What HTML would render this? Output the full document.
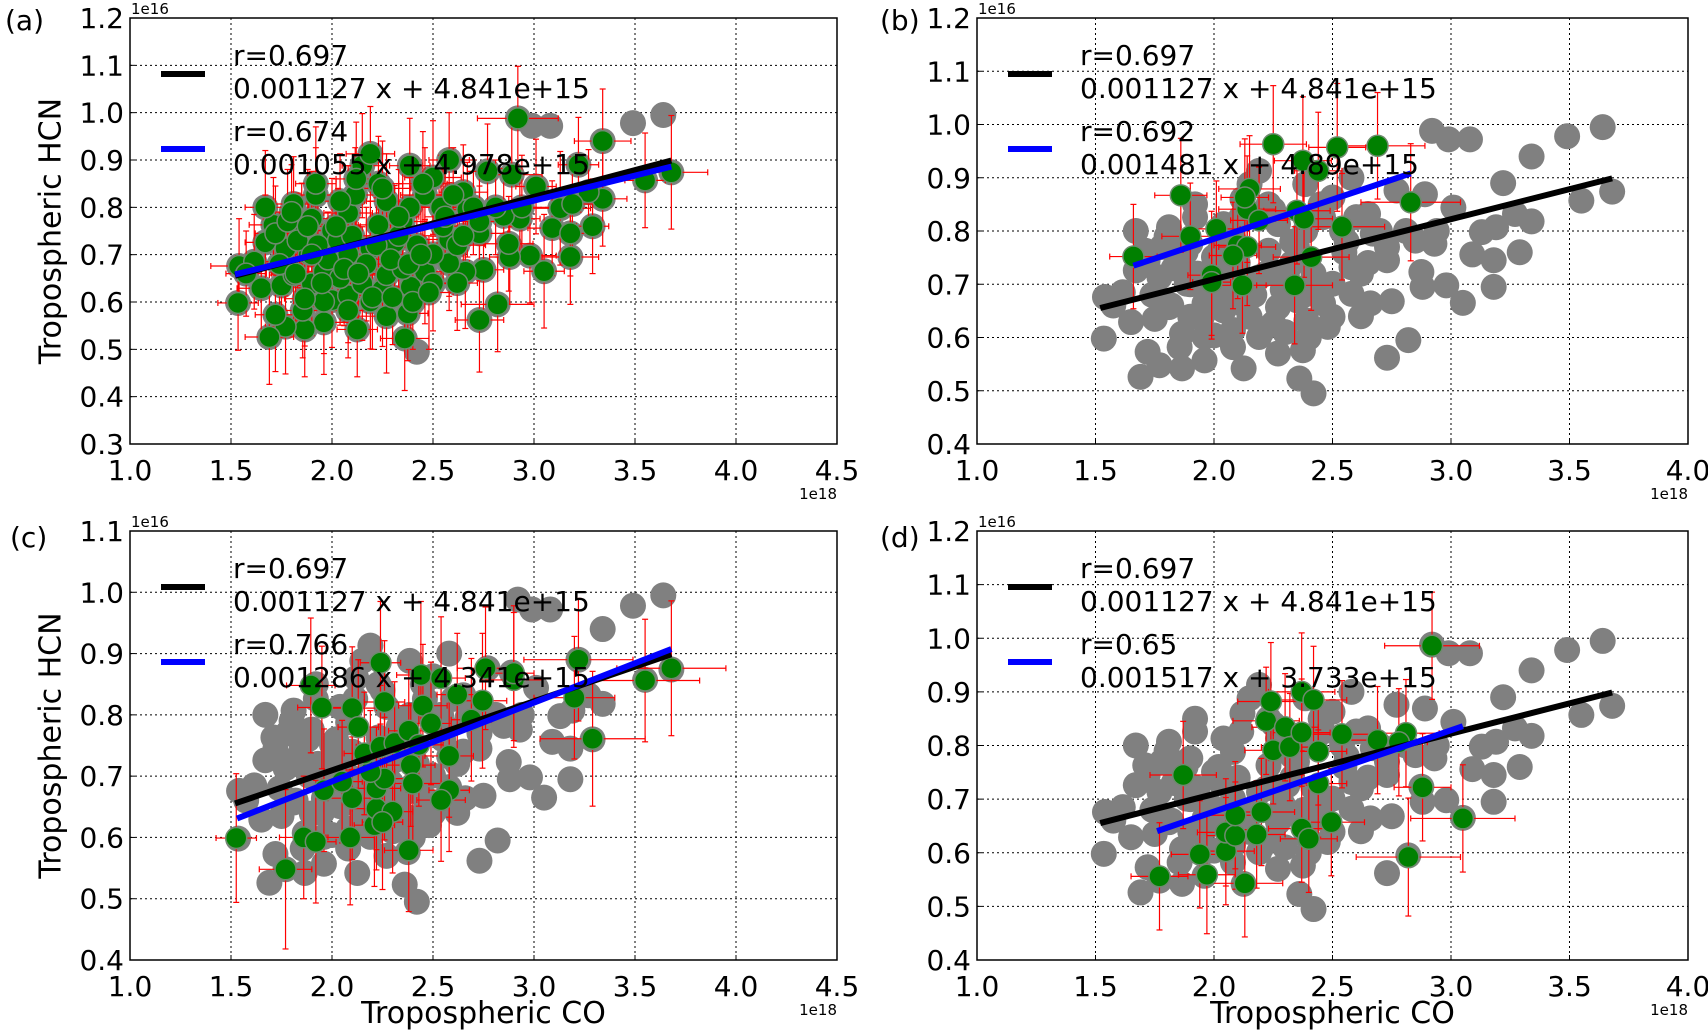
<!DOCTYPE html>
<html><head><meta charset="utf-8">
<style>
html,body{margin:0;padding:0;background:#fff;}
svg{display:block;font-family:"DejaVu Sans","Liberation Sans",sans-serif;}
</style></head>
<body>
<svg id="fig" width="1708" height="1032" viewBox="0 0 1708 1032" xmlns="http://www.w3.org/2000/svg"></svg>
<script>
// ---- data (x in 1e18, y in 1e16) ----
const grayX = [3.64,3.49,3.34,3.68,3.55,3.22,3.34,3.27,3.13,3.19,3.29,3.09,3.18,3.18,3.05,2.98,2.88,2.875,2.92,2.99,3.08,2.82,2.73,2.75,2.66,2.62,2.73,2.93,2.85,3.01,2.89,2.77,2.65,2.67,2.58,2.58,2.42,2.36,2.375,2.39,2.25,2.19,2.125,1.96,1.865,1.77,1.69,1.72,1.855,2.0,2.08,1.535,1.65,1.75,1.54,1.615,1.575,1.81,1.9,1.96,2.04,2.15,2.27,2.35,2.46,2.5,2.42,2.31,2.19,2.08,1.885,1.77,1.67,1.71,1.67,1.81,1.9,2.0,2.08,2.23,2.35,2.27,2.23,2.15,2.19,2.385,2.5,2.58,2.46,2.54,2.385,2.115,1.92,1.92,2.04,1.85,1.96,1.865,2.08,2.27,2.5,2.6,2.94,2.81,2.73,
  1.72,1.78,1.83,1.88,1.93,1.98,2.03,2.1,2.17,2.22,2.29,2.33,2.38,2.44,2.55,2.62,1.74,1.82,1.95,2.06,2.13,2.2,2.3,2.4,2.48,2.56,1.8,1.9,2.02,2.12,2.25,2.33,2.45,2.65,2.7];
const grayY = [0.995,0.978,0.94,0.874,0.857,0.89,0.818,0.832,0.798,0.807,0.76,0.756,0.745,0.695,0.665,0.698,0.695,0.723,0.988,0.972,0.972,0.595,0.562,0.668,0.664,0.64,0.745,0.776,0.782,0.844,0.869,0.876,0.832,0.795,0.732,0.682,0.495,0.523,0.576,0.632,0.626,0.601,0.542,0.557,0.542,0.548,0.526,0.573,0.582,0.604,0.614,0.598,0.629,0.635,0.676,0.685,0.66,0.657,0.639,0.664,0.651,0.639,0.657,0.67,0.664,0.701,0.72,0.726,0.713,0.701,0.701,0.713,0.726,0.763,0.8,0.807,0.776,0.751,0.788,0.763,0.77,0.813,0.85,0.888,0.913,0.888,0.863,0.9,0.826,0.8,0.8,0.826,0.826,0.85,0.813,0.751,0.601,0.607,0.582,0.57,0.639,0.826,0.8,0.8,0.77,
  0.745,0.77,0.73,0.76,0.72,0.69,0.73,0.74,0.68,0.72,0.69,0.74,0.68,0.7,0.76,0.72,0.68,0.66,0.64,0.67,0.66,0.61,0.61,0.6,0.62,0.78,0.79,0.7,0.76,0.86,0.84,0.78,0.85,0.74,0.8];
const grayXErr = [0.12,0.1,0.14,0.18,0.1,0.1,0.12,0.1,0.15,0.1,0.08,0.12,0.1,0.14,0.1,0.13,0.1,0.12,0.2,0.1,0.1,0.18,0.12,0.1,0.12,0.1,0.14,0.1,0.12,0.1,0.15,0.1,0.12,0.1,0.13,0.1,0.1,0.12,0.1,0.14,0.1,0.12,0.1,0.12,0.1,0.1,0.12,0.1,0.1,0.12,0.1,0.1,0.12,0.1,0.14,0.1,0.1,0.12,0.1,0.1,0.15,0.1,0.12,0.1,0.14,0.12,0.1,0.12,0.1,0.1,0.12,0.1,0.1,0.12,0.1,0.1,0.12,0.1,0.12,0.1,0.12,0.1,0.12,0.1,0.12,0.1,0.14,0.1,0.12,0.1,0.12,0.1,0.12,0.1,0.12,0.1,0.12,0.1,0.12,0.14,0.12,0.1,0.15,0.12,0.1,
  0.1,0.12,0.1,0.14,0.1,0.12,0.1,0.12,0.1,0.14,0.1,0.12,0.1,0.12,0.1,0.14,0.1,0.12,0.1,0.12,0.14,0.1,0.12,0.1,0.12,0.1,0.12,0.1,0.12,0.1,0.14,0.1,0.12,0.1,0.12];
const grayYErr = [0.1,0.1,0.11,0.12,0.1,0.1,0.1,0.09,0.12,0.1,0.1,0.1,0.09,0.1,0.12,0.1,0.1,0.1,0.11,0.1,0.1,0.1,0.11,0.1,0.12,0.1,0.1,0.09,0.1,0.1,0.11,0.1,0.1,0.1,0.12,0.1,0.1,0.11,0.1,0.1,0.12,0.1,0.1,0.11,0.1,0.1,0.1,0.12,0.1,0.1,0.1,0.1,0.1,0.11,0.1,0.1,0.09,0.1,0.11,0.1,0.1,0.12,0.1,0.1,0.11,0.1,0.1,0.12,0.1,0.1,0.11,0.1,0.1,0.1,0.12,0.1,0.1,0.11,0.1,0.1,0.12,0.1,0.1,0.11,0.1,0.1,0.12,0.1,0.1,0.11,0.1,0.1,0.1,0.12,0.1,0.1,0.11,0.1,0.1,0.12,0.1,0.1,0.11,0.1,0.1,
  0.1,0.11,0.1,0.12,0.1,0.1,0.11,0.1,0.12,0.1,0.1,0.11,0.1,0.1,0.12,0.1,0.11,0.1,0.1,0.12,0.1,0.11,0.1,0.1,0.12,0.1,0.1,0.11,0.1,0.12,0.1,0.1,0.11,0.1,0.1];
const skipA = [0,1,19,20,36];

const greenB = [[1.66,0.752,0.1,0.098],[1.86,0.867,0.11,0.107],[1.90,0.79,0.12,0.1],[2.01,0.804,0.1,0.09],[1.99,0.717,0.1,0.12],[1.99,0.704,0.08,0.1],[2.12,0.698,0.1,0.09],[2.15,0.879,0.13,0.1],[2.14,0.841,0.12,0.1],[2.13,0.863,0.1,0.11],[2.19,0.82,0.12,0.1],[2.10,0.773,0.1,0.1],[2.14,0.77,0.12,0.11],[2.08,0.754,0.1,0.1],[2.25,0.963,0.14,0.11],[2.375,0.932,0.12,0.12],[2.44,0.913,0.1,0.11],[2.52,0.957,0.12,0.12],[2.69,0.96,0.2,0.1],[2.35,0.838,0.14,0.1],[2.38,0.823,0.12,0.11],[2.54,0.808,0.18,0.1],[2.41,0.751,0.16,0.1],[2.34,0.698,0.16,0.11],[2.83,0.854,0.21,0.11]];
const greenC = [[1.526,0.599,0.1,0.105],[1.77,0.548,0.13,0.13],[1.86,0.6,0.12,0.1],[1.92,0.593,0.1,0.1],[1.895,0.848,0.12,0.11],[1.95,0.812,0.12,0.1],[2.1,0.811,0.12,0.1],[2.13,0.78,0.1,0.11],[1.96,0.677,0.1,0.1],[2.1,0.664,0.12,0.1],[2.05,0.691,0.1,0.1],[2.09,0.6,0.12,0.11],[2.21,0.62,0.1,0.1],[2.22,0.647,0.12,0.1],[2.3,0.642,0.1,0.1],[2.25,0.625,0.1,0.11],[2.22,0.68,0.12,0.1],[2.26,0.696,0.1,0.1],[2.19,0.707,0.12,0.1],[2.16,0.737,0.1,0.1],[2.24,0.748,0.12,0.1],[2.31,0.754,0.1,0.1],[2.39,0.718,0.12,0.1],[2.4,0.688,0.14,0.1],[2.38,0.579,0.12,0.1],[2.38,0.774,0.1,0.1],[2.45,0.815,0.12,0.1],[2.49,0.786,0.1,0.1],[2.44,0.865,0.12,0.12],[2.26,0.821,0.1,0.1],[2.24,0.885,0.1,0.1],[2.54,0.86,0.12,0.1],[2.62,0.833,0.1,0.1],[2.745,0.823,0.12,0.11],[2.69,0.792,0.1,0.1],[2.58,0.733,0.12,0.1],[2.58,0.677,0.1,0.1],[2.54,0.661,0.12,0.1],[2.76,0.876,0.14,0.1],[2.9,0.857,0.14,0.11],[2.9,0.868,0.1,0.11],[3.22,0.89,0.27,0.1],[3.2,0.828,0.2,0.1],[3.29,0.761,0.26,0.11],[3.55,0.856,0.27,0.1],[3.68,0.876,0.27,0.11],[2.43,0.751,0.12,0.1]];
const greenD = [[2.92,0.986,0.2,0.1],[1.77,0.556,0.12,0.1],[1.87,0.745,0.14,0.1],[1.94,0.597,0.12,0.1],[1.97,0.559,0.12,0.11],[2.05,0.603,0.12,0.1],[2.05,0.638,0.12,0.1],[2.09,0.632,0.12,0.1],[2.09,0.67,0.12,0.1],[2.13,0.543,0.16,0.1],[2.18,0.634,0.12,0.1],[2.2,0.676,0.14,0.1],[2.22,0.846,0.14,0.1],[2.24,0.882,0.14,0.11],[2.25,0.791,0.12,0.1],[2.3,0.834,0.14,0.1],[2.32,0.797,0.12,0.1],[2.37,0.9,0.14,0.11],[2.42,0.885,0.14,0.1],[2.37,0.824,0.12,0.1],[2.44,0.789,0.12,0.1],[2.44,0.729,0.12,0.1],[2.37,0.645,0.14,0.1],[2.4,0.626,0.12,0.1],[2.495,0.657,0.14,0.1],[2.54,0.821,0.14,0.1],[2.69,0.81,0.14,0.1],[2.81,0.823,0.14,0.1],[2.78,0.806,0.12,0.1],[2.88,0.722,0.12,0.1],[3.05,0.664,0.22,0.1],[2.82,0.592,0.22,0.11]];

const blackFit = [0.1127,0.4841,1.52,3.68];
const blueA = [0.1055,0.4978,1.52,3.68];
const blueB = [0.1481,0.489,1.66,2.83];
const blueC = [0.1286,0.4341,1.53,3.68];
const blueD = [0.1517,0.3733,1.76,3.05];
const legendA = ["r=0.674","0.001055 x + 4.978e+15"];
const legendB = ["r=0.692","0.001481 x + 4.89e+15"];
const legendC = ["r=0.766","0.001286 x + 4.341e+15"];
const legendD = ["r=0.65","0.001517 x + 3.733e+15"];
const legendBlack = ["r=0.697","0.001127 x + 4.841e+15"];

const NS="http://www.w3.org/2000/svg";
const svg=document.getElementById('fig');
function mk(tag,attrs,parent){const e=document.createElementNS(NS,tag);for(const k in attrs)e.setAttribute(k,attrs[k]);(parent||svg).appendChild(e);return e;}

function panel(opt){
  const g=mk('g',{});
  
  
  const L=opt.L,R=opt.R,T=opt.T,B=opt.B;
  const sx=v=>L+(v-opt.xmin)/(opt.xmax-opt.xmin)*(R-L);
  const sy=v=>B-(v-opt.ymin)/(opt.ymax-opt.ymin)*(B-T);
  const clip=mk('clipPath',{id:'clip'+opt.id},g);
  mk('rect',{x:L,y:T,width:R-L,height:B-T},clip);
  const grid=mk('g',{stroke:'#000','stroke-width':1,'stroke-dasharray':'2,3'},g);
  
  
  for(let v=opt.xmin+0.5;v<opt.xmax-0.01;v+=0.5){mk('line',{x1:sx(v),x2:sx(v),y1:T,y2:B},grid);}
  for(let v=opt.ymin+0.1;v<opt.ymax-0.01;v+=0.1){mk('line',{x1:L,x2:R,y1:sy(v),y2:sy(v)},grid);}
  const plot=mk('g',{'clip-path':'url(#clip'+opt.id+')'},g);
  const gg=mk('g',{fill:'#808080'},plot);
  
  
  for(let i=0;i<grayX.length;i++){
    const c=mk('circle',{cx:sx(grayX[i]),cy:sy(grayY[i]),r:13},gg);
    
    
  }
  const eb=mk('g',{stroke:'#ff0000','stroke-width':1.2,fill:'none'},plot);
  
  
  opt.green.forEach(p=>{
    const x=sx(p[0]),y=sy(p[1]),x1=sx(p[0]-p[2]),x2=sx(p[0]+p[2]),y1=sy(p[1]+p[3]),y2=sy(p[1]-p[3]);
    mk('line',{x1:x1,x2:x2,y1:y,y2:y},eb);
    mk('line',{x1:x,x2:x,y1:y1,y2:y2},eb);
    mk('line',{x1:x1,x2:x1,y1:y-3,y2:y+3},eb);
    mk('line',{x1:x2,x2:x2,y1:y-3,y2:y+3},eb);
    mk('line',{x1:x-3,x2:x+3,y1:y1,y2:y1},eb);
    mk('line',{x1:x-3,x2:x+3,y1:y2,y2:y2},eb);
  });
  const gr=mk('g',{fill:'#008000',stroke:'#6e8a6e','stroke-width':1.5},plot);
  
  
  opt.green.forEach(p=>{
    const c=mk('circle',{cx:sx(p[0]),cy:sy(p[1]),r:10.5},gr);
    
    
  });
  const fl=(f,col,name)=>{
    const l=mk('line',{x1:sx(f[2]),y1:sy(f[0]*f[2]+f[1]),x2:sx(f[3]),y2:sy(f[0]*f[3]+f[1]),stroke:col,'stroke-width':6},plot);
    
    
  };
  fl(blackFit,'#000','fit-line-all');
  fl(opt.blue,'#0000ff','fit-line-subset');
  const fr=mk('rect',{x:L,y:T,width:R-L,height:B-T,fill:'none',stroke:'#000','stroke-width':1.5},g);
  
  
  const tl=mk('g',{'font-size':28,fill:'#000'},g);
  
  
  for(let v=opt.xmin;v<=opt.xmax+0.01;v+=0.5){
    const t=mk('text',{x:sx(v),y:B+36,'text-anchor':'middle'},tl);t.textContent=v.toFixed(1);
    mk('line',{x1:sx(v),x2:sx(v),y1:B,y2:B-5,stroke:'#000'},g);
  }
  for(let v=opt.ymin;v<=opt.ymax+0.01;v+=0.1){
    const t=mk('text',{x:L-6,y:sy(v)+10,'text-anchor':'end'},tl);t.textContent=v.toFixed(1);
    mk('line',{x1:L,x2:L+5,y1:sy(v),y2:sy(v),stroke:'#000'},g);
  }
  let t=mk('text',{x:L+1,y:T-4,'font-size':15},g);t.textContent='1e16';
  
  t=mk('text',{x:R,y:B+55,'font-size':15,'text-anchor':'end'},g);t.textContent='1e18';
  
  t=mk('text',{x:opt.lx,y:opt.ly,'font-size':28},g);t.textContent='('+opt.id+')';
  
  const lg=mk('g',{'font-size':28},g);
  
  
  mk('line',{x1:L+31,x2:L+75,y1:T+56,y2:T+56,stroke:'#000','stroke-width':6},lg);
  mk('line',{x1:L+31,x2:L+75,y1:T+131,y2:T+131,stroke:'#0000ff','stroke-width':6},lg);
  const lines=[legendBlack[0],legendBlack[1],opt.legend[0],opt.legend[1]];
  const ys=[T+47,T+80,T+123,T+156];
  lines.forEach((s,i)=>{const e=mk('text',{x:L+103,y:ys[i]},lg);e.textContent=s;
    });
  if(opt.ylabel){
    const cy=(T+B)/2;
    const e=mk('text',{x:52,y:cy,'font-size':30,'text-anchor':'middle',transform:'rotate(-90 52 '+cy+')','dominant-baseline':'middle'},g);
    e.textContent='Tropospheric HCN';
  }
  if(opt.xlabel){
    const e=mk('text',{x:(L+R)/2,y:1023,'font-size':30,'text-anchor':'middle'},g);
    e.textContent='Tropospheric CO';
  }
}
const greenA=[];
for(let i=0;i<grayX.length;i++){if(skipA.indexOf(i)<0)greenA.push([grayX[i],grayY[i],grayXErr[i]??0.1,grayYErr[i]??0.1]);}

panel({id:'a',L:130,R:837,T:18,B:444,xmin:1,xmax:4.5,ymin:0.3,ymax:1.2,green:greenA,blue:blueA,legend:legendA,lx:5,ly:30,ylabel:true});
panel({id:'b',L:977,R:1688,T:18,B:444,xmin:1,xmax:4.0,ymin:0.4,ymax:1.2,green:greenB,blue:blueB,legend:legendB,lx:880,ly:30});
panel({id:'c',L:130,R:837,T:531,B:960,xmin:1,xmax:4.5,ymin:0.4,ymax:1.1,green:greenC,blue:blueC,legend:legendC,lx:10,ly:547,ylabel:true,xlabel:true});
panel({id:'d',L:977,R:1688,T:531,B:960,xmin:1,xmax:4.0,ymin:0.4,ymax:1.2,green:greenD,blue:blueD,legend:legendD,lx:880,ly:547,xlabel:true});
</script>
</body></html>
